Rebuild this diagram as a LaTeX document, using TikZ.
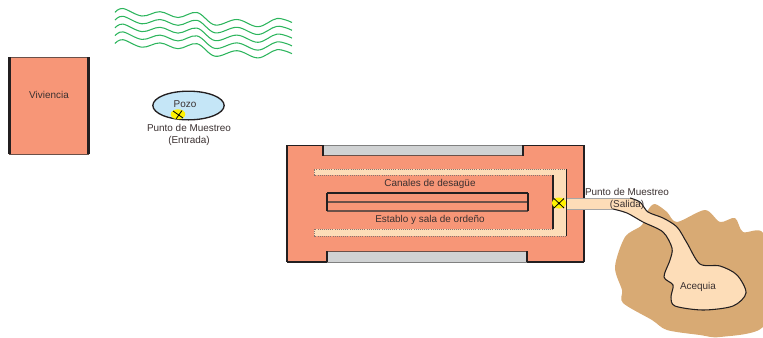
\documentclass[tikz,border=0pt]{standalone}
\usepackage{fontspec}
\usetikzlibrary{shapes.geometric}
\setmainfont{Liberation Sans}
\definecolor{salmon}{HTML}{F79677}
\definecolor{pipe}{HTML}{FDDDB8}
\definecolor{soil}{HTML}{D8AA74}
\definecolor{band}{HTML}{D0D2D3}
\definecolor{dk}{HTML}{231F20}
\definecolor{edge}{HTML}{6B5048}
\definecolor{wave}{HTML}{2DB55D}
\definecolor{wellblue}{HTML}{C5E6F7}
\definecolor{txt}{HTML}{3A3030}
\tikzset{
  lbl/.style={font=\fontsize{7.45}{9.6}\selectfont,text=txt,inner sep=0pt,align=center},
  wavy/.style={draw=wave,line width=0.8pt},
  thickedge/.style={draw=dk,line width=1.5pt},
  thinedge/.style={draw=edge,line width=0.7pt},
  dots/.style={draw=edge!80,line width=0.6pt,densely dotted},
}
\begin{document}
\begin{tikzpicture}[x=0.75pt,y=-0.75pt]
\useasboundingbox (0,0) rectangle (763,337);
% waves
\foreach \d in {0,7.8,15.6,23.4,31.2}{
  \draw[wavy,yshift=-0.75*\d pt] plot[smooth,tension=0.6] coordinates {(115,12.3)(123,8.5)(142,16)(160,11.7)(178,17.5)(197,12.5)(215,25)(237,19.5)(258,26.7)(277,18.5)(292,22.5)};
}
% Vivienda
\fill[salmon] (9,57) rectangle (89,154);
\draw[thinedge] (9,57) -- (89,57);
\draw[thinedge] (9,154) -- (89,154);
\draw[thickedge,line width=2.2pt] (9.5,57) -- (9.5,154);
\draw[thickedge,line width=2.2pt] (88.5,57) -- (88.5,154);
\node[lbl] (viv) at (49,94.5) {Viviencia};
% Pozo
\node[draw=dk,fill=wellblue,line width=1pt,ellipse,minimum width=53.5pt,minimum height=21.5pt,inner sep=0pt] (pozo) at (188.5,105.5) {};
\fill[yellow] (178,114.3) ellipse [x radius=7.3,y radius=5];
\draw[black,line width=0.6pt] (173,111) -- (183,118) (182,110.5) -- (176,119);
\node[lbl] (pozot) at (185,104.5) {Pozo};
\node[lbl] (pm1) at (189,135) {Punto de Muestreo\\(Entrada)};
% soil
\fill[soil] plot[smooth cycle,tension=0.5] coordinates {(648,210)(655,204)(667,212)(677,222)(705,210)(720,222)(735,218)(743,232)(763,233)(770,280)(763,327)(720,337)(700,335)(667,330)(652,320)(623,303)(622,290)(615,267)(625,237)(642,225)};
% building
\path[fill=salmon] (287,145) -- (323,145) -- (323,155) -- (523,155) -- (523,145) -- (584,145) -- (584,262) -- (527,262) -- (527,251) -- (327,251) -- (327,262) -- (287,262) -- cycle;
\fill[band] (323,145) rectangle (523,155);
\fill[band] (327,251) rectangle (527,262);
\draw[thinedge,draw=gray] (323,145) -- (523,145);
\draw[thinedge] (323,155) -- (523,155);
\draw[thickedge,line width=1pt] (323,145) -- (323,156);
\draw[thickedge,line width=1pt] (523,145) -- (523,156);
\draw[thinedge] (327,251) -- (527,251);
\draw[thickedge,line width=1pt] (327,251) -- (327,262);
\draw[thickedge,line width=1pt] (527,251) -- (527,262);
\draw[draw=dk,line width=0.7pt] (287,145) -- (323,145) (523,145) -- (584,145);
\draw[draw=dk,line width=0.9pt] (287,262) -- (327,262) (527,262) -- (584,262);
\draw[draw=gray,line width=0.7pt] (327,262) -- (527,262);
\draw[thickedge,line width=1.5pt] (287,145) -- (287,262);
\draw[thickedge,line width=1.5pt] (584,145) -- (584,262);
% channel
\path[fill=pipe] (314,169) -- (566,169) -- (566,236) -- (314,236) -- (314,229) -- (553,229) -- (553,175) -- (314,175) -- cycle;
\draw[dots] (553,175) -- (314,175) -- (314,169) -- (566,169);
\draw[dots] (553,229) -- (314,229) -- (314,236) -- (566,236);
\draw[thickedge,line width=1.1pt] (566.5,169) -- (566.5,236);
\draw[thickedge,line width=1.1pt] (553,175) -- (553,229);
% inner block
\draw[draw=dk,line width=0.8pt] (327,193) -- (528,193);
\draw[draw=edge,line width=1pt] (327,202) -- (528,202);
\draw[draw=edge,line width=1pt] (327,211) -- (528,211);
\draw[draw=dk,line width=1pt] (327,193) -- (327,211);
\draw[draw=dk,line width=1pt] (528,193) -- (528,211);
\node[lbl] (can) at (430,183.5) {Canales de desagüe};
\node[lbl] (est) at (430,220) {Establo y sala de ordeño};
% outflow
\path[fill=pipe] (567,198) -- plot[smooth,tension=0.5] coordinates {(630,198)(640,202)(648,212)(663,218)(677,227)(687,243)(700,264)(720,266)(737,275)(746,293)(733,306)(703,310)(675,306)(671,297)(673,285)(664,277)(670,260)(672,248)(663,232)(643,222)(627,213)(613,209)} -- (567,209) -- cycle;
\draw[draw=dk,line width=0.8pt,line join=round] plot[smooth,tension=0.5] coordinates {(630,198)(640,202)(648,212)(663,218)(677,227)(687,243)(700,264)(720,266)(737,275)(746,293)(733,306)(703,310)(675,306)(671,297)(673,285)(664,277)(670,260)(672,248)(663,232)(643,222)(627,213)(613,209)};
\draw[draw=gray!70,line width=0.5pt] (567,198) -- (630,198) (567,209) -- (613,209);
% sampling mark
\fill[yellow] (559,203) ellipse [x radius=7,y radius=5.5];
\draw[black,line width=0.6pt] (554,198.5) -- (564,208) (564,198.5) -- (554,208);
\node[lbl] (pm2) at (627,199) {Punto de Muestreo\\(Salida)};
\node[lbl] (aceq) at (698,287) {Acequia};
\end{tikzpicture}
\end{document}
